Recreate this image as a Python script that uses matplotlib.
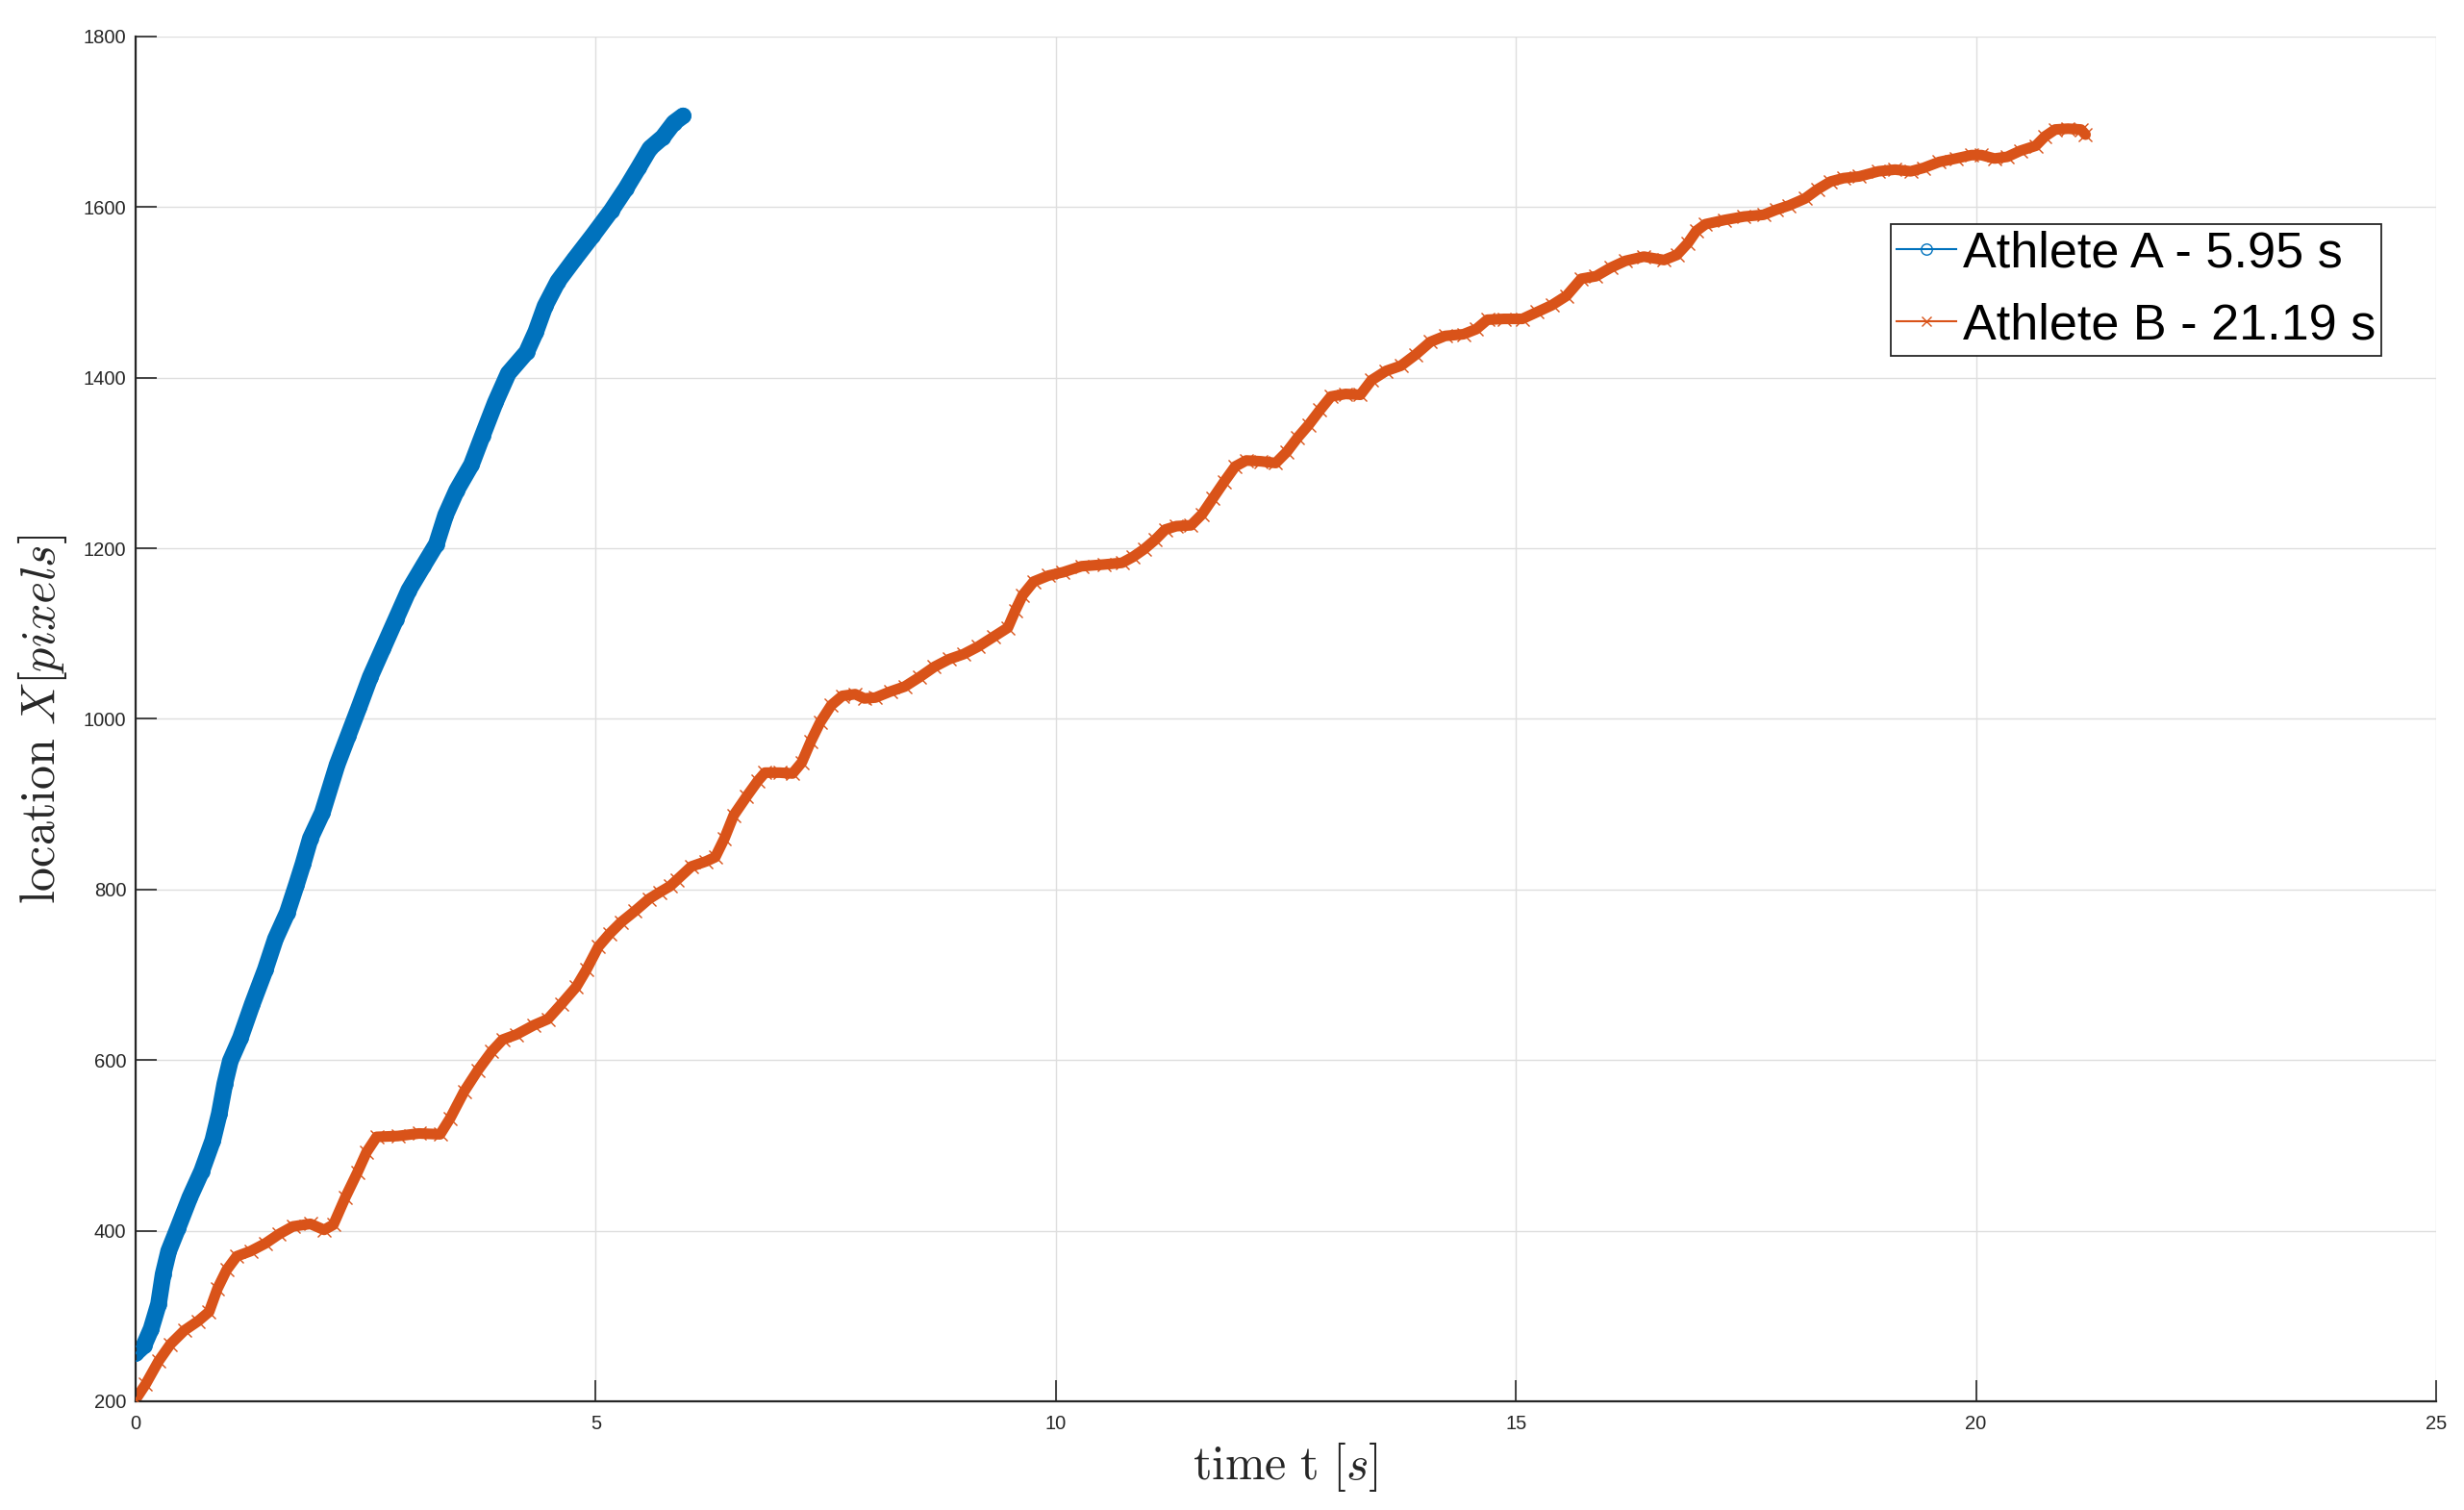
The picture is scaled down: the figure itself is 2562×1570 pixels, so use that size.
"""Athlete position over time (MATLAB-style line plot)."""

import matplotlib as mpl
import matplotlib.pyplot as plt

DPI = 100
BLUE = "#0072BD"
ORANGE = "#D95319"
AXIS = "#262626"
GRID = "#dedede"

# Athlete A: time [s] and location X [pixels]
t_a = [0.00, 0.09, 0.17, 0.25, 0.30, 0.36, 0.46, 0.59, 0.72, 0.84,
       0.91, 0.97, 1.03, 1.14, 1.27, 1.41, 1.52, 1.65, 1.75, 1.82,
       1.90, 2.03, 2.19, 2.31, 2.43, 2.55, 2.69, 2.83, 2.97, 3.13,
       3.27, 3.37, 3.49, 3.65, 3.77, 3.91, 4.05, 4.25, 4.35, 4.45,
       4.59, 4.77, 4.97, 5.17, 5.33, 5.47, 5.59, 5.73, 5.85, 5.95]
x_a = [256, 265, 285, 314, 349, 376, 403, 439, 470, 506,
       537, 572, 599, 626, 666, 706, 742, 773, 806, 830,
       860, 890, 946, 980, 1014, 1049, 1083, 1117, 1151, 1180,
       1205, 1239, 1268, 1298, 1332, 1371, 1405, 1430, 1454, 1484,
       1513, 1539, 1567, 1596, 1622, 1647, 1669, 1682, 1699, 1707]

# Athlete B: time [s] and location X [pixels]
t_b = [0.00, 0.11, 0.25, 0.38, 0.53, 0.68, 0.80, 0.89, 0.99, 1.10,
       1.25, 1.41, 1.56, 1.71, 1.90, 2.05, 2.15, 2.28, 2.41, 2.51,
       2.62, 2.85, 3.08, 3.31, 3.42, 3.57, 3.72, 3.87, 3.99, 4.14,
       4.33, 4.48, 4.63, 4.79, 4.90, 5.03, 5.15, 5.28, 5.43, 5.58,
       5.70, 5.81, 5.88, 6.04, 6.20, 6.30, 6.40, 6.50, 6.64, 6.76,
       6.84, 7.00, 7.14, 7.24, 7.34, 7.44, 7.56, 7.68, 7.82, 7.92,
       8.04, 8.20, 8.36, 8.52, 8.68, 8.84, 9.00, 9.16, 9.32, 9.48,
       9.56, 9.64, 9.76, 9.92, 10.08, 10.28, 10.52, 10.72, 10.84, 10.96,
       11.08, 11.19, 11.31, 11.47, 11.59, 11.71, 11.83, 11.95, 12.07, 12.23,
       12.39, 12.51, 12.63, 12.75, 12.87, 12.99, 13.15, 13.31, 13.43, 13.59,
       13.75, 13.91, 14.07, 14.23, 14.43, 14.57, 14.69, 14.87, 15.07, 15.23,
       15.39, 15.55, 15.71, 15.87, 16.03, 16.19, 16.39, 16.61, 16.75, 16.87,
       16.96, 17.06, 17.27, 17.48, 17.69, 17.83, 17.97, 18.14, 18.28, 18.42,
       18.56, 18.73, 18.94, 19.12, 19.29, 19.43, 19.60, 19.78, 19.95, 20.06,
       20.20, 20.34, 20.48, 20.65, 20.75, 20.86, 21.00, 21.14, 21.19]
x_b = [202, 220, 247, 267, 283, 294, 305, 332, 354, 370,
       376, 385, 396, 405, 408, 401, 407, 439, 468, 492,
       510, 511, 514, 513, 532, 563, 588, 610, 624, 630,
       641, 648, 666, 686, 706, 733, 748, 762, 775, 789,
       797, 804, 811, 827, 833, 838, 860, 887, 909, 927,
       937, 937, 936, 949, 974, 996, 1016, 1027, 1029, 1024,
       1025, 1032, 1038, 1049, 1061, 1070, 1076, 1085, 1096, 1107,
       1127, 1145, 1161, 1168, 1172, 1179, 1181, 1183, 1190, 1199,
       1210, 1222, 1226, 1227, 1240, 1259, 1278, 1296, 1303, 1302,
       1300, 1313, 1330, 1345, 1362, 1378, 1381, 1380, 1397, 1408,
       1414, 1427, 1442, 1449, 1451, 1457, 1468, 1469, 1469, 1477,
       1485, 1496, 1516, 1519, 1529, 1537, 1542, 1538, 1544, 1558,
       1572, 1580, 1585, 1589, 1591, 1597, 1602, 1610, 1621, 1630,
       1634, 1636, 1642, 1644, 1642, 1646, 1653, 1657, 1661, 1661,
       1657, 1659, 1666, 1672, 1683, 1691, 1692, 1691, 1685]

labels = ["Athlete A - 5.95 s", "Athlete B - 21.19 s"]
x_ticks = [0, 5, 10, 15, 20, 25]
y_ticks = [200, 400, 600, 800, 1000, 1200, 1400, 1600, 1800]


def apply_style():
    mpl.rcParams.update(
        {
            "font.family": ["Liberation Sans", "DejaVu Sans"],
            "mathtext.fontset": "cm",
            "axes.edgecolor": AXIS,
            "xtick.color": AXIS,
            "ytick.color": AXIS,
        }
    )


def build_figure():
    fig = plt.figure(figsize=(25.62, 15.70), dpi=DPI)
    ax = fig.add_axes([0.0550, 0.0720, 0.9337, 0.9038])

    # dense marker bands (the original has a marker every video frame)
    ax.plot(t_a, x_a, color=BLUE, lw=12.5, solid_capstyle="round",
            solid_joinstyle="round", zorder=2)
    ax.plot(t_b, x_b, color=ORANGE, lw=8.0, solid_capstyle="round",
            solid_joinstyle="round", zorder=2)

    ax.plot(t_a, x_a, color=BLUE, lw=1.5, marker="o", ms=11, mew=1.0,
            mfc="none", label=labels[0], zorder=3)
    ax.plot(t_b, x_b, color=ORANGE, lw=1.5, marker="x", ms=10, mew=1.0,
            label=labels[1], zorder=3)

    ax.set_xlim(0, 25)
    ax.set_ylim(200, 1800)
    ax.set_xticks(x_ticks)
    ax.set_yticks(y_ticks)
    ax.tick_params(direction="in", length=16, width=1.2, labelsize=14.5)
    ax.tick_params(axis="x", pad=10)
    ax.tick_params(axis="y", pad=7)
    ax.grid(True, color=GRID, lw=1.0, zorder=0)
    ax.set_axisbelow(True)
    for side in ("top", "right"):
        ax.spines[side].set_visible(False)
    for side in ("left", "bottom"):
        ax.spines[side].set_linewidth(1.6)

    ax.set_xlabel(r"$\mathrm{time\ t}\ [s]$", fontsize=36, color=AXIS)
    ax.set_ylabel(r"$\mathrm{location}\ X[pixels]$", fontsize=36, color=AXIS)
    ax.xaxis.set_label_coords(0.5, -0.028)
    ax.yaxis.set_label_coords(-0.029, 0.5)

    leg = ax.legend(
        loc="upper right",
        bbox_to_anchor=(0.9762, 0.8626),
        borderaxespad=0,
        fontsize=37.5,
        fancybox=False,
        framealpha=1,
        edgecolor=AXIS,
        handlelength=1.2,
        handletextpad=0.12,
        borderpad=0.12,
        labelspacing=0.5,
        markerscale=0.75,
    )
    leg.get_frame().set_linewidth(1.3)
    return fig


def main():
    apply_style()
    fig = build_figure()
    fig.savefig("out.png", dpi=DPI, facecolor="white")
    plt.close(fig)


if __name__ == "__main__":
    main()
